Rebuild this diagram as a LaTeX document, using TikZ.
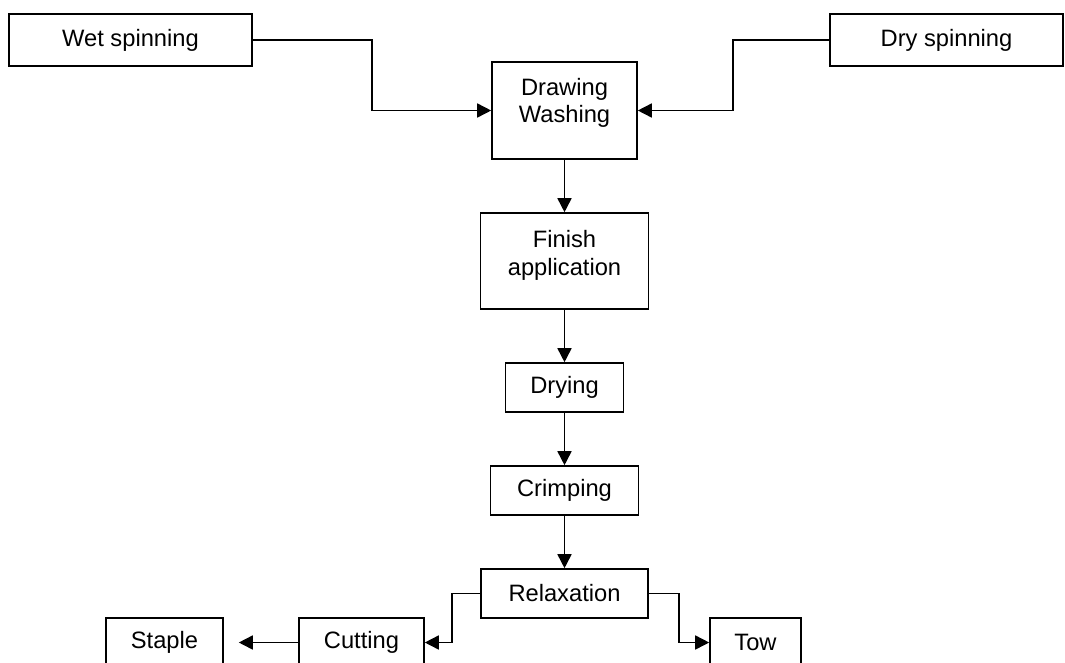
\documentclass[tikz,border=0pt]{standalone}
\usepackage{fontspec}
\setmainfont{Liberation Sans}
\usepackage{tikz}
\usetikzlibrary{arrows.meta,positioning,calc}

\tikzset{
    stage/.style={draw, line width=1.6pt, inner sep=0pt, align=center,
        font=\fontsize{23.7}{27.5}\selectfont},
    flow/.style={line width=1.6pt, -{Triangle[length=14pt,width=14pt]}}
}

\begin{document}
\begin{tikzpicture}[x=1pt,y=-1pt]
        \useasboundingbox (0,0) rectangle (1065,662);

        % Spinning
        \node[stage, minimum width=243pt, minimum height=52pt] (wet) at (130.5, 40) {Wet spinning};
        \node[stage, minimum width=233pt, minimum height=52pt] (dry) at (946.5, 40) {Dry spinning};

        % Main line
        \node[stage, minimum width=145pt, minimum height=97pt] (drawwash) at (564.5, 110.5) {Drawing\\Washing\\[-7pt]};
        \node[stage, minimum width=168pt, minimum height=96pt] (finish) at (564.5, 261) {Finish\\application\\[-11pt]};
        \node[stage, minimum width=118pt, minimum height=49pt] (drying) at (564.5, 387.5) {Drying};
        \node[stage, minimum width=148pt, minimum height=49pt] (crimp) at (564.5, 490.5) {Crimping};
        \node[stage, minimum width=167pt, minimum height=49pt] (relax) at (564.5, 593.5) {Relaxation};

        % Products
        \node[stage, minimum width=125pt, minimum height=49pt] (cutting) at (361.5, 642.5) {Cutting};
        \node[stage, minimum width=117pt, minimum height=49pt] (staple) at (164.5, 642.5) {Staple};
        \node[stage, minimum width=91pt, minimum height=49pt] (tow) at (755.5, 642.5) {Tow};

        % Arrows
        \draw[flow] (wet.east) -- ++(119,0) |- (drawwash.west);
        \draw[flow] (dry.west) -- ++(-96,0) |- (drawwash.east);

        \foreach \a/\b in {drawwash/finish, finish/drying, drying/crimp, crimp/relax}
        \draw[flow] (\a.south) -- (\b.north);

        \draw[flow] (relax.west) -- ++(-28,0) |- (cutting.east);
        \draw[flow] (relax.east) -- ++(30,0) |- (tow.west);
        \draw[flow, shorten >=15pt] (cutting.west) -- (staple.east);

    \end{tikzpicture}
\end{document}
